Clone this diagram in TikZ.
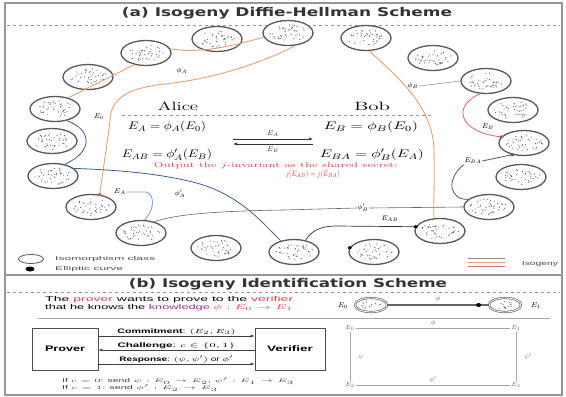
\documentclass[tikz,border=0pt]{standalone}
\usepackage{fontspec}
\usepackage{amsmath}
\usepackage{graphicx}
\setsansfont{Liberation Sans}
\newfontfamily\titlefont{DejaVu Sans}
\usetikzlibrary{arrows.meta,shapes.geometric}
\definecolor{isoO}{RGB}{232,160,112}
\definecolor{isoR}{RGB}{222,112,122}
\definecolor{isoB}{RGB}{62,92,150}
\definecolor{isoLB}{RGB}{130,170,220}
\definecolor{frameG}{RGB}{150,150,150}
\definecolor{tred}{RGB}{230,60,70}
\definecolor{knowc}{RGB}{170,40,170}
\newcommand{\fitw}[2]{\resizebox{#1}{\height}{#2}}
\newcommand{\speck}[5]{%
  \foreach \k in {1,...,#5}{%
    \pgfmathsetmacro{\spR}{sqrt(rnd)}%
    \pgfmathsetmacro{\spA}{360*rnd}%
    \fill[black!60] ({#1+#3*\spR*cos(\spA)},{#2+#4*\spR*sin(\spA)}) circle[radius=0.6pt];
  }}
\newcommand{\ringell}[3]{\node[isoclass] (#1) at (#2,#3) {};\speck{#2}{#3}{19}{8.5}{40}}
\begin{document}
\begin{tikzpicture}[x=1pt,y=-1pt,
  isoclass/.style={ellipse, draw=black!65, line width=1.3pt, minimum width=50pt, minimum height=25pt, inner sep=0pt, fill=white},
  isosmall/.style={ellipse, draw=black!60, double=white, double distance=0.8pt, line width=0.7pt, minimum width=32pt, minimum height=14pt, inner sep=0pt, fill=white},
  ecdot/.style={ellipse, fill=black, minimum width=4pt, minimum height=3pt, inner sep=0pt},
  lbl/.style={inner sep=0.5pt, font=\fontsize{7}{8}\selectfont},
  txt/.style={inner sep=0pt},
  isoOl/.style={draw=isoO, line width=0.9pt},
  isoRl/.style={draw=isoR, line width=0.9pt},
  isoBl/.style={draw=isoB, line width=0.8pt},
  isoLBl/.style={draw=isoLB, line width=0.9pt},
  arrb/.style={draw=black!75, line width=0.6pt, -{Latex[length=4pt,width=3pt]}},
  albl/.style={inner sep=0.5pt, font=\sffamily\fontsize{6.5}{7}\selectfont},
  sqline/.style={draw=black!35, line width=0.5pt},
  sqlbl/.style={inner sep=1pt, text=black!60, font=\fontsize{6.5}{7}\selectfont},
  boxn/.style={draw=black!70, line width=0.7pt, minimum height=42pt, inner sep=0pt, font=\sffamily\fontsize{8}{9}\selectfont}
]
\useasboundingbox (0,0) rectangle (566,397);
\pgfmathsetseed{7}
% frame
\draw[frameG, line width=1.2pt] (5,3) rectangle (562,395);
\draw[frameG, line width=1.5pt] (5,275) -- (562,275);
\draw[black!40, dashed, line width=0.5pt] (7,25) -- (560,25);
\draw[black!40, dashed, line width=0.5pt] (7,292) -- (560,292);
% titles
\node[txt, font=\titlefont\bfseries\fontsize{12}{12}\selectfont, text=black!80] (titlea) at (287,13) {\fitw{330pt}{(a) Isogeny Diffie-Hellman Scheme}};
\node[txt, font=\titlefont\bfseries\fontsize{12}{12}\selectfont, text=black!80] (titleb) at (288,284) {\fitw{318pt}{(b) Isogeny Identification Scheme}};
% ring of isomorphism classes
\ringell{r1}{88}{77}
\ringell{r2}{146}{53}
\ringell{r3}{217}{39}
\ringell{r4}{288}{33}
\ringell{r5}{366}{38}
\ringell{r6}{433}{58}
\ringell{r7}{486}{81}
\ringell{r8}{513}{110}
\ringell{r9}{524}{143}
\ringell{r10}{521}{177}
\ringell{r11}{489}{207}
\ringell{r12}{440}{231}
\ringell{r13}{374}{252}
\ringell{r14}{294}{252}
\ringell{r15}{216}{248}
\ringell{r16}{141}{233}
\ringell{r17}{91}{207}
\ringell{r18}{53}{176}
\ringell{r19}{52}{141}
\ringell{r20}{55}{109}
% isogeny paths
\draw[isoOl] (r20.40) -- (r2.225);
\draw[isoOl] (r2.10) .. controls (205,55) and (245,42) .. (r4.190);
\draw[isoOl] (r17.55) -- (110,122) .. controls (110,98) and (128,88) .. (165,84) .. controls (220,78) and (268,60) .. (r4.-60);
\node[lbl] (lphiA) at (182,71) {$\phi_A$};
\draw[isoOl] (r5.-75) .. controls (395,75) and (433,105) .. (434,150) .. controls (435,185) and (433,205) .. (r12.115);
\node[lbl] (lphiB) at (413,86) {$\phi_B$};
\draw[black!45, line width=0.5pt] (lphiB.east) -- (r7.west);
\draw[isoRl] (r7.-115) .. controls (452,106) and (458,132) .. (r9.165);
\node[lbl] (lEB) at (488,127) {$E_B$};
\node[lbl] (lEBA) at (473,161) {$E_{BA}$};
\draw[isoBl] (r9.-135) -- (lEBA.east);
\draw[isoBl] (lEBA.south west) .. controls (445,180) and (450,200) .. (r11.160);
\node[lbl, fill=white] (lphiBp) at (363,208) {$\phi'_B$};
\draw[black!60, line width=0.6pt] (r11.west) -- (lphiBp.east);
\draw[black!60, line width=0.6pt] (lphiBp.west) -- (283,210) .. controls (220,211) and (175,214) .. (r16.40);
\draw[isoBl] (r18.20) .. controls (120,170) and (165,174) .. (200,184) .. controls (240,196) and (262,222) .. (r14.140);
\node[lbl] (lphiAp) at (180,194) {$\phi'_A$};
\draw[isoBl] (r20.-45) .. controls (93,130) and (93,152) .. (r18.45);
\node[lbl] (lE0) at (99,117) {$E_0$};
\node[lbl] (lEA) at (120,192) {$E_A$};
\draw[isoLBl] (lEA.east) -- (146,192) .. controls (154,194) and (156,208) .. (r16.75);
\draw[black!80, line width=0.7pt] (r12.170) -- (335,226) .. controls (320,226) and (310,232) .. (r14.45);
\node[lbl] (lEAB) at (390,219) {$E_{AB}$};
% elliptic curve dots
\node[ecdot] at (r12.170) {};
\node[ecdot] at (r13.170) {};
\node[ecdot, fill=isoR!80!black] at (r9.165) {};
\node[ecdot, fill=isoO!70!black] at (r17.55) {};
\node[ecdot, fill=isoB] at (r9.-135) {};
% centre texts
\node[txt, font=\fontsize{12}{12}\selectfont] (alice) at (178,106) {\fitw{40pt}{Alice}};
\node[txt, font=\fontsize{12}{12}\selectfont] (bob) at (372,106) {\fitw{36pt}{Bob}};
\coordinate (dl) at (122,115);
\coordinate (dr) at (432,115);
\draw[black!40, dashed, line width=0.4pt] (dl) -- (dr);
\node[txt, font=\fontsize{11}{11}\selectfont] (eqA) at (167,127) {\fitw{78pt}{$E_A=\phi_A(E_0)$}};
\node[txt, font=\fontsize{11}{11}\selectfont] (eqB) at (371,127) {\fitw{94pt}{$E_B=\phi_B(E_0)$}};
\node[txt, font=\fontsize{11}{11}\selectfont] (eqAB) at (167,155) {\fitw{90pt}{$E_{AB}=\phi'_A(E_B)$}};
\node[txt, font=\fontsize{11}{11}\selectfont] (eqBA) at (372,155) {\fitw{104pt}{$E_{BA}=\phi'_B(E_A)$}};
\coordinate (aL1) at (233,139);
\coordinate (aR1) at (313,139);
\coordinate (aL2) at (233,144);
\coordinate (aR2) at (313,144);
\draw[black!80, line width=0.6pt, -{Latex[length=4pt,width=3pt]}] (aL1) -- (aR1) node[midway, above=1.5pt, lbl] {$E_A$};
\draw[black!80, line width=0.6pt, -{Latex[length=4pt,width=3pt]}] (aR2) -- (aL2) node[midway, below=1.5pt, lbl] {$E_B$};
\node[txt, text=tred, font=\fontsize{7}{8}\selectfont] (red1) at (276,166) {\fitw{244pt}{Output the $j$-invariant as the shared secret:}};
\node[txt, text=tred, font=\fontsize{8}{9}\selectfont] (red2) at (313,174) {\fitw{54pt}{$j(E_{AB})=j(E_{BA})$}};
% legend (a)
\node[isoclass, minimum width=25pt, minimum height=9pt, line width=0.8pt] (legiso) at (31,259) {};
\node[ecdot, minimum width=9pt, minimum height=5pt] (legec) at (30,269) {};
\node[txt, anchor=west, font=\sffamily\fontsize{5.5}{6}\selectfont, text=black!70] (legisot) at (55,259) {\fitw{100pt}{Isomorphism class}};
\node[txt, anchor=west, font=\sffamily\fontsize{5.5}{6}\selectfont, text=black!70] (legect) at (55,269) {\fitw{68pt}{Elliptic curve}};
\coordinate (lg1) at (468,258); \coordinate (lg1e) at (505,258);
\coordinate (lg2) at (468,262); \coordinate (lg2e) at (505,262);
\coordinate (lg3) at (468,266); \coordinate (lg3e) at (505,266);
\draw[black!45, line width=0.6pt] (lg1) -- (lg1e);
\draw[isoO, line width=0.6pt] (lg2) -- (lg2e);
\draw[isoR, line width=0.6pt] (lg3) -- (lg3e);
\node[txt, font=\sffamily\fontsize{6}{6}\selectfont, text=black!70] (legisog) at (540,264) {\fitw{36pt}{Isogeny}};
% section (b)
\node[txt, anchor=west, font=\sffamily\fontsize{7}{8}\selectfont] (bt1) at (45,300) {\fitw{248pt}{The \textcolor{tred}{prover} wants to prove to the \textcolor{tred}{verifier}}};
\node[txt, anchor=west, font=\sffamily\fontsize{7}{8}\selectfont] (bt2) at (45,308) {\fitw{248pt}{that he knows the \textcolor{knowc}{knowledge} \textcolor{tred}{$\phi: E_0\to E_1$}}};
\node[isosmall] (e0) at (371,305) {};
\speck{371}{305}{11}{4}{14}
\node[isosmall] (e1) at (505,305) {};
\speck{505}{305}{11}{4}{14}
\node[lbl] (le0) at (343,306) {$E_0$};
\node[lbl] (le1) at (536,306) {$E_1$};
\draw[black!60, line width=1.3pt] (e0.east) -- (e1.west) node[pos=0.9, ecdot, minimum width=5pt, minimum height=4pt] {} node[midway, above=2pt, lbl] {$\phi$};
\draw[black!35, line width=0.6pt] (38,318) -- (550,318);
\node[boxn, minimum width=66pt] (prover) at (65,349) {\fitw{40pt}{\textbf{Prover}}};
\node[boxn, minimum width=70pt] (verifier) at (290,349) {\fitw{46pt}{\textbf{Verifier}}};
\draw[arrb] ([yshift=13pt]prover.east) -- ([yshift=13pt]verifier.west) node[midway, above=0.5pt, albl] {\fitw{118pt}{\textbf{Commitment}: $(E_2,E_3)$}};
\draw[arrb] ([yshift=-1pt]verifier.west) -- ([yshift=-1pt]prover.east) node[midway, above=0.5pt, albl] {\fitw{118pt}{\textbf{Challenge}: $c\in\{0,1\}$}};
\draw[arrb] ([yshift=-15pt]prover.east) -- ([yshift=-15pt]verifier.west) node[midway, above=0.5pt, albl] {\fitw{114pt}{\textbf{Response}: $(\psi,\psi')$ or $\phi'$}};
\node[txt, anchor=west, font=\sffamily\fontsize{5.5}{6}\selectfont, text=black!75] (bl1) at (62,381) {\fitw{232pt}{If $c=0$: send $\psi: E_0\to E_2$,\ $\psi': E_1\to E_3$}};
\node[txt, anchor=west, font=\sffamily\fontsize{5.5}{6}\selectfont, text=black!75] (bl2) at (62,388) {\fitw{156pt}{If $c=1$: send $\phi': E_2\to E_3$}};
% commutative square
\node[sqlbl] (q0) at (350,328) {$E_0$};
\node[sqlbl] (q1) at (516,328) {$E_1$};
\node[sqlbl] (q2) at (350,385) {$E_2$};
\node[sqlbl] (q3) at (516,385) {$E_3$};
\draw[sqline] (q0) -- (q1) node[midway, above=1pt, sqlbl] {$\phi$};
\draw[sqline] (q0) -- (q2) node[midway, right=7pt, sqlbl] {$\psi$};
\draw[sqline] (q1) -- (q3) node[midway, right=7pt, sqlbl] {$\psi'$};
\draw[sqline] (q2) -- (q3) node[midway, above=1pt, sqlbl] {$\phi'$};
\end{tikzpicture}
\end{document}
